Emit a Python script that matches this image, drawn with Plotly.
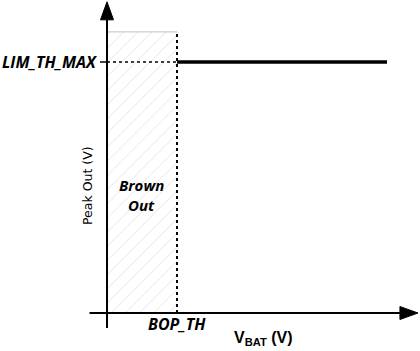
import plotly.graph_objects as go

# ---- data (schematic units) ----
x_labels = ["BOP_TH"]
bop_th = 2.0          # brown-out threshold on VBAT axis
x_end_line = 8.0      # end of the flat LIM_TH_MAX line
lim_th_max = 5.0      # peak-out limit
hatch_top = 5.6       # top of brown-out region
y_labels = ["LIM_TH_MAX"]

# axis extents
x_min_axis, x_max_axis = -0.5, 8.37
y_min_axis, y_max_axis = -0.3, 5.84
x_range = [-3.057, 8.943]
y_range = [-0.757, 6.235]

xu = (x_range[1] - x_range[0]) / 420.0
yu = (y_range[1] - y_range[0]) / 351.0

fig = go.Figure()

# hatched brown-out region
fig.add_trace(go.Scatter(
    x=[0, bop_th, bop_th, 0, 0],
    y=[0, 0, hatch_top, hatch_top, 0],
    mode="lines", line=dict(color="rgba(0,0,0,0)", width=0),
    fill="toself", fillcolor="rgba(255,255,255,0)",
    fillpattern=dict(shape="/", fgcolor="#c4c4c4", bgcolor="white", size=10, solidity=0.09),
    hoverinfo="skip", showlegend=False))
# top border of region
fig.add_trace(go.Scatter(x=[0, bop_th], y=[hatch_top, hatch_top], mode="lines",
                         line=dict(color="#c0c0c0", width=1), showlegend=False, hoverinfo="skip"))
# dotted vertical at BOP_TH
fig.add_trace(go.Scatter(x=[bop_th, bop_th], y=[0, hatch_top], mode="lines",
                         line=dict(color="black", width=2, dash="dot"), showlegend=False, hoverinfo="skip"))
# dotted horizontal at LIM_TH_MAX
fig.add_trace(go.Scatter(x=[0, bop_th], y=[lim_th_max, lim_th_max], mode="lines",
                         line=dict(color="black", width=1.5, dash="dot"), showlegend=False, hoverinfo="skip"))
# thick limit line
fig.add_trace(go.Scatter(x=[bop_th, x_end_line], y=[lim_th_max, lim_th_max], mode="lines",
                         line=dict(color="black", width=3.5), showlegend=False, hoverinfo="skip"))
# axes lines
fig.add_trace(go.Scatter(x=[0, 0], y=[y_min_axis, y_max_axis], mode="lines",
                         line=dict(color="black", width=2), showlegend=False, hoverinfo="skip"))
fig.add_trace(go.Scatter(x=[x_min_axis, x_max_axis], y=[0, 0], mode="lines",
                         line=dict(color="black", width=2), showlegend=False, hoverinfo="skip"))
# tick at LIM_TH_MAX
fig.add_trace(go.Scatter(x=[-7 * xu, 0], y=[lim_th_max, lim_th_max], mode="lines",
                         line=dict(color="black", width=1.5), showlegend=False, hoverinfo="skip"))

# arrowheads
ah_w, ah_l = 6.5, 18
fig.add_trace(go.Scatter(
    x=[-ah_w * xu, ah_w * xu, 0, -ah_w * xu],
    y=[y_max_axis, y_max_axis, y_max_axis + ah_l * yu, y_max_axis],
    mode="lines", fill="toself", fillcolor="black", line=dict(color="black", width=1),
    showlegend=False, hoverinfo="skip"))
fig.add_trace(go.Scatter(
    x=[x_max_axis, x_max_axis, x_max_axis + ah_l * xu, x_max_axis],
    y=[-ah_w * yu, ah_w * yu, 0, -ah_w * yu],
    mode="lines", fill="toself", fillcolor="black", line=dict(color="black", width=1),
    showlegend=False, hoverinfo="skip"))

lab_font = dict(family="Open Sans", size=16, color="black")
bo_font = dict(family="Open Sans", size=15, color="black")
anns = [
    dict(x=-8 * xu, y=lim_th_max, text="<b><i>" + y_labels[0] + "</i></b>", xanchor="right", yanchor="middle",
         font=lab_font),
    dict(x=bop_th, y=-11 * yu, text="<b><i>" + x_labels[0] + "</i></b>", xanchor="center", yanchor="middle",
         font=lab_font),
    dict(x=(141 - 107) * xu, y=(313 - 185) * yu, text="<b><i>Brown</i></b>", xanchor="center", yanchor="middle",
         font=bo_font),
    dict(x=(141 - 107) * xu, y=(313 - 205) * yu, text="<b><i>Out</i></b>", xanchor="center", yanchor="middle",
         font=bo_font),
    dict(x=-20 * xu, y=(313 - 186) * yu, text="Peak Out (V)", textangle=-90, xanchor="center",
         yanchor="middle", font=dict(family="DejaVu Sans", size=12.5, color="black")),
    dict(x=(263 - 107) * xu, y=-25 * yu,
         text="<b>V<sub>BAT</sub> (V)</b>", xanchor="center", yanchor="middle",
         font=dict(family="Liberation Sans", size=16, color="black")),
]
for a in anns:
    a.setdefault("showarrow", False)
    a.setdefault("xref", "x")
    a.setdefault("yref", "y")
fig.update_layout(annotations=anns)

fig.update_layout(
    width=420, height=351,
    margin=dict(l=0, r=0, t=0, b=0),
    paper_bgcolor="white", plot_bgcolor="white",
    xaxis=dict(range=x_range, visible=False, fixedrange=True),
    yaxis=dict(range=y_range, visible=False, fixedrange=True),
    showlegend=False,
)
fig.write_html("out.html")
